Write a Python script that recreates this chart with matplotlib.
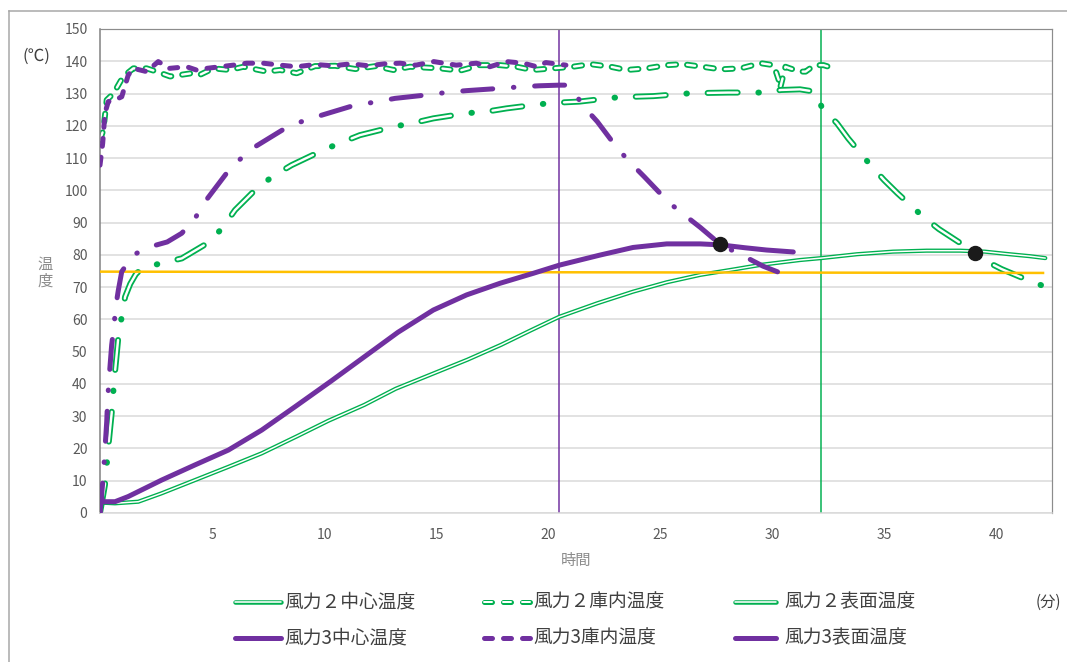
import matplotlib
matplotlib.use('Agg')
import matplotlib.pyplot as plt
from matplotlib.lines import Line2D

plt.rcParams['font.family'] = ['Noto Sans CJK JP', 'DejaVu Sans']
plt.rcParams['lines.scale_dashes'] = False

# ---------------- data ----------------
g_center_x = [0, 0.1, 0.67, 1.71, 2.75, 4.24, 5.73, 7.22, 8.8, 10.2, 11.8, 13.2, 14.8, 16.4, 17.9,
              19.2, 20.5, 22.2, 23.8, 25.3, 26.8, 28.3, 29.5, 31.25, 32.2, 33.8, 35.4, 36.9, 38.4,
              39.5, 40.6, 41.5, 42.2]
g_center_y = [2.5, 3.2, 3.0, 3.5, 6.1, 10.2, 14.3, 18.5, 23.8, 28.6, 33.5, 38.5, 43.0, 47.5, 52.1,
              56.5, 60.8, 65.0, 68.6, 71.5, 73.8, 75.5, 76.9, 78.4, 79.0, 80.2, 81.0, 81.3, 81.3,
              81.0, 80.2, 79.6, 79.0]

p_center_x = [0, 0.05, 0.12, 0.67, 1.26, 2.75, 4.24, 5.73, 7.22, 8.7, 10.3, 11.8, 13.3, 14.88, 16.37,
              17.86, 19.35, 20.5, 22.3, 23.8, 25.3, 26.8, 27.7, 28.8, 29.76, 30.95]
p_center_y = [0, 5.5, 3.5, 3.5, 5.1, 10.2, 14.9, 19.5, 25.7, 32.9, 40.8, 48.4, 56.0, 62.9, 67.6,
              71.2, 74.3, 76.8, 79.9, 82.3, 83.4, 83.4, 83.1, 82.2, 81.5, 80.9]

g_inner_x = [0, 0.15, 0.3, 0.6, 1.04, 1.49, 2.08, 2.53, 3.13, 4.1, 4.46, 5.06, 5.8, 6.4, 7.44, 8.04,
             8.78, 9.6, 10.5, 11.4, 12.3, 13.1, 13.84, 15.2, 16.07, 16.96, 17.86, 18.6, 19.3, 20.2,
             21.1, 21.9, 22.8, 23.5, 24.4, 25.3, 26.0, 26.9, 27.7, 28.6, 29.5, 30.06, 30.2, 30.3,
             30.36, 30.6, 30.8, 31.25, 31.5, 31.9, 32.3, 32.77]
g_inner_y = [115.6, 118.7, 128, 130, 135.3, 137.8, 137.8, 136.8, 135.3, 136.3, 135.8, 137.8, 137.3,
             138.3, 136.8, 137.3, 136.3, 138.5, 138.6, 137.6, 138.5, 137.3, 138.3, 137.8, 137.1,
             138.8, 138.8, 138.3, 137.3, 137.8, 138.3, 139.1, 138.3, 137.3, 137.8, 138.8, 139.1,
             138.3, 137.5, 137.8, 139.4, 138.8, 136.3, 134.2, 131.6, 138.3, 137.8, 136.8, 136.8,
             138.8, 138.8, 137.8]

p_inner_x = [0, 0.12, 0.22, 0.37, 0.82, 0.97, 1.26, 1.49, 2.08, 2.6, 3.1, 3.87, 4.3, 4.76, 5.36, 5.95,
             6.55, 7.29, 8.04, 8.78, 9.6, 10.4, 11.2, 12.0, 12.7, 13.4, 14.1, 14.9, 15.9, 16.8, 17.4,
             18.15, 18.9, 19.5, 19.9, 20.8]
p_inner_y = [107.8, 114.6, 123.9, 127.5, 128.5, 129, 135.7, 137.8, 136.8, 139.9, 137.8, 138.3, 137.3,
             137.8, 138.3, 138.8, 139.4, 139.4, 138.8, 138.3, 139.0, 138.6, 139.2, 138.6, 139.2,
             139.4, 138.8, 139.9, 138.8, 139.4, 138.3, 139.9, 139.4, 138.3, 139.6, 138.8]

g_surface_x = [0, 0.08, 0.22, 0.3, 0.37, 0.52, 0.6, 0.67, 0.82, 0.97, 1.12, 1.35, 1.6, 1.86, 2.72,
               3.65, 4.91, 5.5, 6.03, 7.07, 7.8, 8.55, 9.97, 10.8, 11.6, 13.1, 14.0, 14.88, 16.37,
               17.26, 18.15, 19.64, 20.5, 21.4, 22.9, 23.8, 24.7, 26.2, 27.2, 28.05, 29.6, 30.4,
               31.25, 31.9, 32.25, 32.9, 33.4, 34.4, 35.0, 35.6, 36.75, 37.45, 38.2, 39.06, 39.4,
               40.25, 41.07, 42.2]
g_surface_y = [0, 3.1, 8.7, 14.9, 20.5, 30.9, 38.1, 43.8, 54.6, 60.8, 67.0, 71.0, 74.0, 75.8, 77.4,
               78.9, 84.1, 88.7, 93.9, 101.1, 104.7, 107.8, 112.5, 114.9, 117.1, 119.7, 120.9, 122.3,
               123.9, 124.4, 125.4, 126.7, 127.2, 127.5, 128.7, 129.0, 129.2, 130.0, 130.2, 130.3,
               130.3, 131.1, 131.3, 130.6, 125.4, 120.8, 116.1, 107.8, 103.2, 99.1, 91.8, 88.0,
               84.6, 80.7, 78.6, 75.6, 73.2, 70.1]

p_surface_x = [0, 0.15, 0.22, 0.3, 0.34, 0.4, 0.52, 0.63, 0.7, 0.82, 0.97, 1.49, 2.23, 3.0, 3.65,
               4.24, 4.69, 5.65, 6.25, 6.92, 8.26, 9.07, 9.9, 11.38, 12.24, 13.17, 14.5, 15.55,
               16.37, 17.86, 18.8, 19.6, 20.5, 20.8, 21.05, 21.6, 22.2, 23.1, 23.7, 24.3, 25.4,
               26.1, 26.8, 27.7, 28.8, 29.6, 31.0]
p_surface_y = [0, 11.8, 19.5, 28.3, 35, 41.2, 52, 58.3, 63.9, 69.1, 74.8, 80, 82.5, 84, 86.7, 91.3,
               96.5, 105.3, 109.6, 113.5, 119.2, 121.5, 123.3, 126.4, 127.3, 128.5, 129.5, 130.4,
               130.9, 131.6, 132.1, 132.4, 132.6, 132.6, 131.6, 125.9, 121.3, 113.0, 108.4, 104.2,
               96.2, 92.3, 88.5, 83.2, 79.4, 76.5, 72.7]

ref_line_x = [0, 42.1]
ref_line_y = [74.8, 74.4]
p_end_time = 20.5
g_end_time = 32.2
dot_x = [27.7, 39.06]
dot_y = [83.3, 80.7]

x_ticks = [5, 10, 15, 20, 25, 30, 35, 40]
y_ticks = list(range(0, 151, 10))

labels = ['風力２中心温度', '風力２庫内温度', '風力２表面温度',
          '風力3中心温度', '風力3庫内温度', '風力3表面温度']

# ---------------- style ----------------
GREEN = '#00B050'
PURPLE = '#7030A0'
ORANGE = '#FFC000'
GRID = '#D9D9D9'
TXT = '#595959'

W, H = 1067, 662
fig = plt.figure(figsize=(W / 100, H / 100), dpi=100)
ax = fig.add_axes([100 / W, 1 - 513 / H, (1052 - 100) / W, (513 - 29) / H])

def pt(p):
    return p * 0.72

DASH = (pt(8), pt(11))
DASHDOT_OUT = (pt(30), pt(20.75), pt(0.5), pt(20.75))
DASHDOT_IN = (pt(30), pt(42))

def styled(target, x, y, color, lw, dashes=None, z=2, **kw):
    k = dict(color=color, lw=lw, solid_capstyle='round', dash_capstyle='round',
             solid_joinstyle='round', dash_joinstyle='round', zorder=z)
    if dashes is not None:
        k['dashes'] = dashes
    k.update(kw)
    if target is ax:
        return ax.plot(x, y, **k)
    ln = Line2D(x, y, transform=fig.transFigure, **k)
    fig.add_artist(ln)
    return ln

def double(target, x, y, w_out, w_in, d_out=None, d_in=None, z=2):
    styled(target, x, y, GREEN, w_out, d_out, z)
    styled(target, x, y, 'white', w_in, d_in, z + 0.05)

# green series (double lines)
double(ax, g_center_x, g_center_y, pt(4.2), pt(1.5), z=2)
double(ax, g_inner_x, g_inner_y, pt(6.0), pt(2.4), DASH, DASH, z=2.2)
double(ax, g_surface_x, g_surface_y, pt(6.0), pt(2.4), DASHDOT_OUT, DASHDOT_IN, z=2.4)
# purple series
styled(ax, p_center_x, p_center_y, PURPLE, pt(5), z=3)
styled(ax, p_inner_x, p_inner_y, PURPLE, pt(5), DASH, z=3.2)
styled(ax, p_surface_x, p_surface_y, PURPLE, pt(5), DASHDOT_OUT, z=3.4)

# reference lines
ax.plot(ref_line_x, ref_line_y, color=ORANGE, lw=pt(2.5), zorder=2.8)
ax.axvline(p_end_time, color=PURPLE, lw=pt(1.5), zorder=1.5)
ax.axvline(g_end_time, color=GREEN, lw=pt(1.5), zorder=1.5)
ax.plot(dot_x, dot_y, 'o', color='#1A1A1A', ms=pt(14), zorder=5)

ax.set_xlim(0, 42.5)
ax.set_ylim(0, 150)
ax.set_xticks(x_ticks)
ax.set_xticklabels([str(v) for v in x_ticks])
ax.set_yticks(y_ticks)
ax.set_yticklabels([str(v) for v in y_ticks])
ax.tick_params(length=0, labelsize=10, labelcolor=TXT)
ax.tick_params(axis='y', pad=9)
ax.tick_params(axis='x', pad=11)
ax.yaxis.grid(True, color=GRID, lw=pt(1.5), zorder=0)
ax.set_axisbelow(True)
for s in ['top', 'right']:
    ax.spines[s].set_color('#8C8C8C')
    ax.spines[s].set_linewidth(pt(1.2))
ax.spines['left'].set_color('#7F7F7F')
ax.spines['left'].set_linewidth(pt(1.5))
ax.spines['bottom'].set_color(GRID)
ax.spines['bottom'].set_linewidth(pt(1.5))

def fx(p):
    return p / W

def fy(p):
    return 1 - p / H

# axis texts
fig.text(fx(36), fy(56), '(℃)', fontsize=12, color='#404040', ha='center', va='center')
fig.text(fx(45), fy(264), '温', fontsize=11, color='#8C8C8C', ha='center', va='center')
fig.text(fx(45), fy(281), '度', fontsize=11, color='#8C8C8C', ha='center', va='center')
fig.text(fx(576), fy(560), '時間', fontsize=11, color='#8C8C8C', ha='center', va='center')
fig.text(fx(1048), fy(602), '(分)', fontsize=11, color='#404040', ha='center', va='center')

# legend (manual)
rows = [602, 638]
cols = [(235, 281, 284), (484, 532, 533), (735, 776, 784)]
for i, lab in enumerate(labels):
    r, c = divmod(i, 3)
    x0, x1, tx = cols[c]
    yy = fy(rows[r])
    xs = [fx(x0), fx(x1)]
    ys = [yy, yy]
    if r == 0:
        if c == 1:
            double(fig, xs, ys, pt(5), pt(2), DASH, DASH, z=5)
        else:
            double(fig, xs, ys, pt(4.5), pt(1.6), z=5)
    else:
        if c == 1:
            styled(fig, xs, ys, PURPLE, pt(5), DASH, z=5)
        else:
            styled(fig, xs, ys, PURPLE, pt(5), z=5)
    fig.text(fx(tx), yy, lab, fontsize=13.5, color='#404040', ha='left', va='center')

# outer chart frame
fig.add_artist(Line2D([fx(9), fx(1067)], [fy(11), fy(11)], transform=fig.transFigure,
                      color='#A6A6A6', lw=pt(1.5)))
fig.add_artist(Line2D([fx(9), fx(9)], [fy(11), fy(662)], transform=fig.transFigure,
                      color='#A6A6A6', lw=pt(1.5)))

fig.savefig('out.png', dpi=100, facecolor='white')
